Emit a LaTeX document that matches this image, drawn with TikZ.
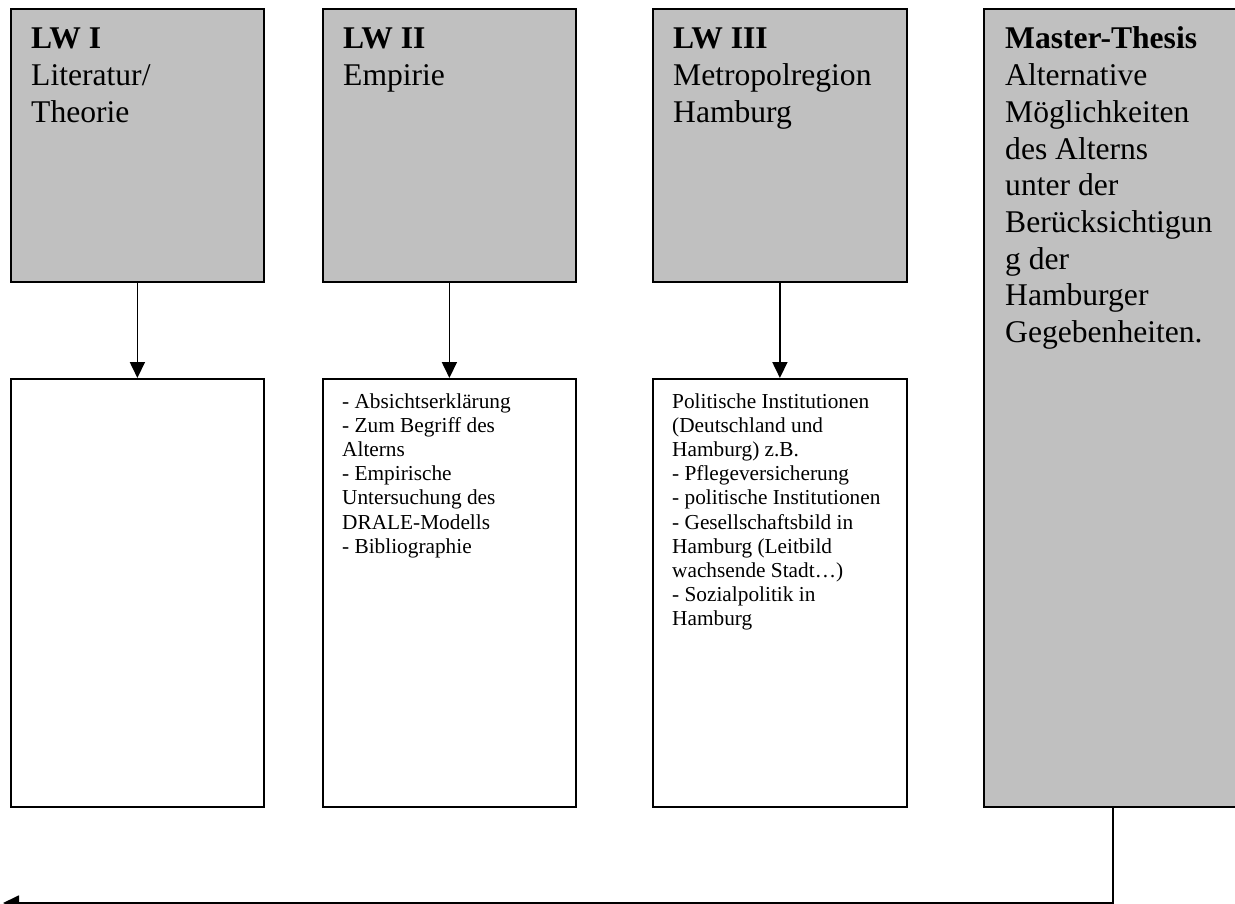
\documentclass[tikz,border=0pt]{standalone}
\usepackage{fontspec}
\setmainfont{Liberation Serif}
\usetikzlibrary{arrows.meta}
\definecolor{boxgray}{HTML}{C0C0C0}
\newcommand{\headfont}{\fontsize{31.6pt}{36.7pt}\selectfont}
\newcommand{\listfont}{\fontsize{21.3pt}{24.2pt}\selectfont}
\tikzset{
  headbox/.style={draw=black, line width=1.8pt, fill=boxgray, inner sep=0pt, anchor=north west},
  listbox/.style={draw=black, line width=1.8pt, fill=white, inner sep=0pt, anchor=north west},
  headtxt/.style={anchor=base west, inner sep=0pt, font=\headfont},
  listtxt/.style={anchor=base west, inner sep=0pt, font=\listfont},
  link/.style={line width=1.8pt, -{Triangle[length=16pt,width=15pt]}},
}
\begin{document}
\begin{tikzpicture}[x=1pt,y=-1pt]
\useasboundingbox (0,0) rectangle (1235,904);
% upper grey boxes
\node[headbox, minimum width=253pt, minimum height=273pt] (u1) at (10,8) {};
\node[headbox, minimum width=253pt, minimum height=273pt] (u2) at (322,8) {};
\node[headbox, minimum width=254pt, minimum height=273pt] (u3) at (652,8) {};
\node[headbox, minimum width=270pt, minimum height=798pt] (m) at (983,8) {};
% lower white boxes
\node[listbox, minimum width=253pt, minimum height=428pt] (l1) at (10,378) {};
\node[listbox, minimum width=253pt, minimum height=428pt] (l2) at (322,378) {};
\node[listbox, minimum width=254pt, minimum height=428pt] (l3) at (652,378) {};
% header texts
\node[headtxt] (t1) at (31,49) {\parbox[t]{225pt}{\raggedright\headfont\textbf{LW I}\\Literatur/\\Theorie}};
\node[headtxt] (t2) at (343,49) {\parbox[t]{225pt}{\raggedright\headfont\textbf{LW II}\\Empirie}};
\node[headtxt] (t3) at (673,49) {\parbox[t]{225pt}{\raggedright\headfont\textbf{LW III}\\Metropolregion\\Hamburg}};
\node[headtxt] (tm) at (1005,49) {\parbox[t]{225pt}{\raggedright\headfont\textbf{Master-Thesis}\\Alternative\\Möglichkeiten\\des Alterns\\unter der\\Berücksichtigun\\g der\\Hamburger\\Gegebenheiten.}};
% list texts
\node[listtxt] (x2) at (342,408) {\parbox[t]{225pt}{\raggedright\listfont - Absichtserklärung\\- Zum Begriff des\\Alterns\\- Empirische\\Untersuchung des\\DRALE-Modells\\- Bibliographie}};
\node[listtxt] (x3) at (672,408) {\parbox[t]{225pt}{\raggedright\listfont Politische Institutionen\\(Deutschland und\\Hamburg) z.B.\\- Pflegeversicherung\\- politische Institutionen\\- Gesellschaftsbild in\\Hamburg (Leitbild\\wachsende Stadt…)\\- Sozialpolitik in\\Hamburg}};
% connectors
\draw[link] (u1.south) -- (l1.north);
\draw[link] (u2.south) -- (l2.north);
\draw[link] (u3.south) -- (l3.north);
\coordinate (mb) at (1113,806);
\coordinate (fin) at (3,903);
\draw[link] (mb) |- (fin);
\end{tikzpicture}
\end{document}
